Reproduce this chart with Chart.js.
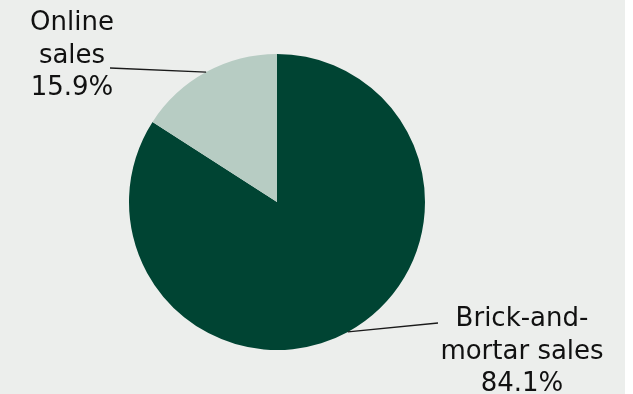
<!DOCTYPE html>
<html lang="en">
<head>
<meta charset="UTF-8">
<title>Sales split</title>
<script src="https://cdn.jsdelivr.net/npm/chart.js@4.4.0/dist/chart.umd.min.js"></script>
<style>
html,body{margin:0;padding:0;background:#fff}
#wrap{width:625px;height:394px;background:#eceeec;position:relative}
</style>
</head>
<body>
<div id="wrap"><canvas id="pie"></canvas></div>
<script>
/* ---------- data ---------- */
const categories = ['Brick-and-mortar sales', 'Online sales'];
const shares = [84.1, 15.9];
const labelLines = [['Brick-and-', 'mortar sales', '84.1%'], ['Online', 'sales', '15.9%']];
const sliceColors = ['#004433', '#b7ccc3'];

/* label placement: line end point + text centre/baseline of first line */
const labelPos = [
  {lineTo:[438,323], textX:522, firstBase:326},
  {lineTo:[110,68],  textX:72,  firstBase:30}
];

const calloutPlugin = {
  id:'callouts',
  afterDatasetsDraw(chart){
    const ctx = chart.ctx;
    const arcs = chart.getDatasetMeta(0).data;
    ctx.save();
    arcs.forEach((arc,i)=>{
      const {x,y,startAngle,endAngle,outerRadius} = arc.getProps(['x','y','startAngle','endAngle','outerRadius'],true);
      const mid = (startAngle+endAngle)/2;
      const ax = x+Math.cos(mid)*outerRadius, ay = y+Math.sin(mid)*outerRadius;
      const p = labelPos[i];
      ctx.strokeStyle = '#1a1a1a'; ctx.lineWidth = 1.3;
      ctx.beginPath(); ctx.moveTo(ax,ay); ctx.lineTo(p.lineTo[0],p.lineTo[1]); ctx.stroke();
      ctx.fillStyle = '#111';
      ctx.font = '26px "DejaVu Sans", Verdana, sans-serif';
      ctx.textAlign = 'center'; ctx.textBaseline = 'alphabetic';
      labelLines[i].forEach((t,k)=>ctx.fillText(t,p.textX,p.firstBase+k*32.5));
    });
    ctx.restore();
  }
};

new Chart(document.getElementById('pie'),{
  type:'pie',
  data:{labels:categories,datasets:[{data:shares,backgroundColor:sliceColors,borderWidth:0}]},
  options:{
    responsive:true,maintainAspectRatio:false,animation:false,
    layout:{padding:{left:129,right:200,top:54,bottom:44}},
    plugins:{legend:{display:false},tooltip:{enabled:false}}
  },
  plugins:[calloutPlugin]
});
</script>
</body>
</html>
